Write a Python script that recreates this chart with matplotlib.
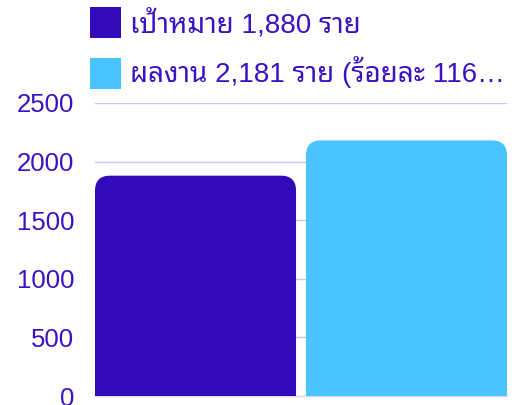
import matplotlib
matplotlib.use('Agg')
import matplotlib.pyplot as plt
from matplotlib import font_manager
from matplotlib.ft2font import FT2Font
from matplotlib.patches import FancyBboxPatch, Rectangle

# ---- data ----
series_labels = ['เป้าหมาย 1,880 ราย', 'ผลงาน 2,181 ราย (ร้อยละ 116…']
series_values = [1880, 2181]
series_colors = ['#3309BA', '#4AC4FF']
y_ticks = [0, 500, 1000, 1500, 2000, 2500]

TEXT = '#3a12c0'


def find_thai_font():
    found = []
    for f in font_manager.fontManager.ttflist:
        try:
            cm = FT2Font(f.fname).get_charmap()
        except Exception:
            continue
        if 0x0E01 in cm and 0x0E49 in cm and 0x0E32 in cm:
            found.append(f.name)
    if not found:
        return None
    for key in ('Noto Sans Thai', 'Sans Thai', 'Thai', 'Sans'):
        for n in found:
            if key in n:
                return n
    return found[0]


thai = find_thai_font()
families = ['Liberation Sans'] + ([thai] if thai else []) + ['DejaVu Sans']
plt.rcParams['font.family'] = families

W, H = 516, 405
fig = plt.figure(figsize=(W / 100, H / 100), dpi=100)
ax_l, ax_r, ax_t, ax_b = 95, 507, 103, 396
ax = fig.add_axes([ax_l / W, (H - ax_b) / H, (ax_r - ax_l) / W, (ax_b - ax_t) / H])

w = 0.953
xs = list(range(len(series_values)))
ax.set_xlim(-w / 2, xs[-1] + w / 2)
ax.set_ylim(y_ticks[0], y_ticks[-1])

px_per_x = (ax_r - ax_l) / (xs[-1] + w)
px_per_y = (ax_b - ax_t) / (y_ticks[-1] - y_ticks[0])
radius_px = 15
r_x = radius_px / px_per_x
aspect = (1 / px_per_y) / (1 / px_per_x)
extra = 200

for x, v, c in zip(xs, series_values, series_colors):
    p = FancyBboxPatch((x - w / 2, -extra), w, v + extra,
                       boxstyle=f"round,pad=0,rounding_size={r_x}",
                       mutation_aspect=aspect, facecolor=c, edgecolor='none',
                       zorder=3)
    ax.add_patch(p)

ax.set_yticks(y_ticks)
ax.set_yticklabels([str(t) for t in y_ticks])
ax.set_xticks([])
ax.yaxis.grid(True, color='#cbc5f2', lw=1)
ax.set_axisbelow(True)
for s in ('left', 'right', 'top'):
    ax.spines[s].set_visible(False)
ax.spines['bottom'].set_color('#dcd8f0')
ax.spines['bottom'].set_linewidth(1)
ax.tick_params(axis='y', length=0, pad=15, labelsize=18.5, labelcolor=TEXT)

# ---- legend (manual) ----
sq_tops = [7, 58]
baselines = [32, 82]
for lab, c, top, bl in zip(series_labels, series_colors, sq_tops, baselines):
    fig.patches.append(Rectangle((90 / W, 1 - (top + 31) / H), 31 / W, 31 / H,
                                 transform=fig.transFigure, facecolor=c,
                                 edgecolor='none'))
    fig.text(130 / W, 1 - bl / H, lab, fontsize=20, color=TEXT,
             va='baseline', ha='left')

fig.savefig('out.png', dpi=100)
